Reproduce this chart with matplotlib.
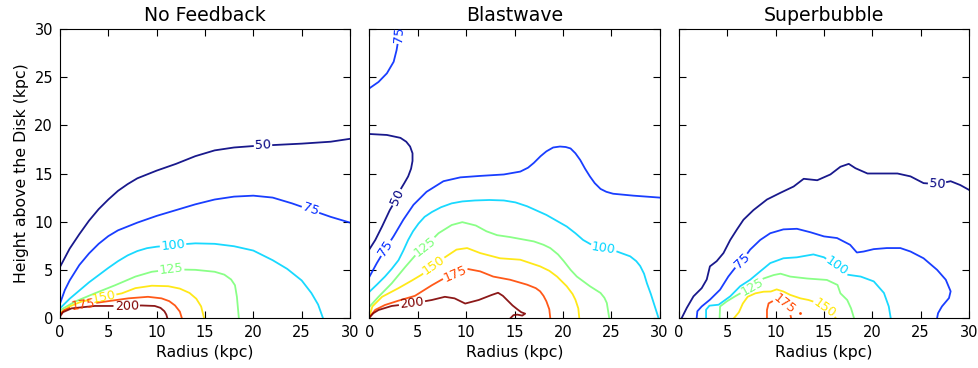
import numpy as np
import matplotlib.pyplot as plt
from matplotlib.colors import Normalize

levels = [50, 75, 100, 125, 150, 175, 200]
titles = ["No Feedback", "Blastwave", "Superbubble"]

# contour paths: (radius kpc, height kpc)
nf_50 = [(0, 5.3), (1, 7.2), (2, 8.7), (3, 10.1), (4, 11.3), (5, 12.3), (6, 13.2), (7, 13.9), (8, 14.5),
         (10, 15.3), (12, 16.0), (14, 16.8), (16, 17.4), (18, 17.7), (20, 17.85), (22, 17.95), (25, 18.1),
         (28, 18.3), (30, 18.6)]
nf_75 = [(0, 1.5), (0.5, 2.9), (1, 3.9), (2, 5.5), (3, 6.7), (4, 7.7), (5, 8.5), (6, 9.1), (8, 9.9), (10, 10.6),
         (12, 11.2), (14, 11.8), (16, 12.3), (18, 12.6), (20, 12.7), (22, 12.5), (24, 11.9), (26, 11.2),
         (28, 10.5), (30, 9.9)]
nf_100 = [(0, 1.0), (1, 2.0), (2, 2.85), (3, 3.7), (4, 4.45), (5, 5.2), (6, 5.9), (7, 6.5), (8, 6.95), (9, 7.25),
          (10, 7.4), (12, 7.6), (14, 7.75), (16, 7.7), (18, 7.45), (20, 7.0), (22, 6.0), (23.5, 5.1), (25, 3.9),
          (26, 2.6), (26.7, 1.4), (27.2, 0)]
nf_125 = [(0, 0.8), (1.55, 1.7), (3.6, 2.56), (5.7, 3.4), (7.8, 4.3), (9.5, 4.8), (11.6, 5.05), (14.0, 5.0),
          (16.0, 4.8), (17.0, 4.5), (17.7, 4.0), (18.1, 3.4), (18.3, 2.2), (18.5, 0)]
nf_150 = [(0, 0.5), (1.0, 1.2), (2.2, 1.7), (4.65, 2.2), (6.4, 2.56), (7.8, 3.1), (9.5, 3.35), (11.2, 3.3),
          (12.4, 3.05), (13.4, 2.6), (14.1, 2.0), (14.6, 1.2), (14.9, 0)]
nf_175 = [(0, 0.3), (0.4, 0.8), (1.55, 1.25), (4.65, 1.7), (7.07, 2.04), (9.1, 2.2), (10.5, 2.04),
          (11.3, 1.75), (11.9, 1.3), (12.4, 0.66), (12.6, 0)]
nf_200 = [(0, 0.15), (0.3, 0.6), (1.2, 1.0), (3.6, 1.25), (6.4, 1.25), (8.45, 1.3), (9.8, 1.25),
          (10.4, 1.05), (10.8, 0.7), (11.0, 0.35), (11.1, 0)]
nf_labels = [(50, 21.0, 17.9), (75, 25.9, 11.2), (100, 11.7, 7.5), (125, 11.5, 5.05),
             (150, 4.5, 2.1), (175, 2.4, 1.3), (200, 6.9, 1.25)]

bw_75_top = [(0, 23.85), (0.93, 24.5), (1.8, 25.4), (2.5, 26.6), (2.8, 27.8), (3.0, 29.0), (3.1, 30.5)]
bw_50 = [(0, 19.1), (1.8, 19.0), (3.2, 18.7), (3.8, 18.3), (4.2, 17.8), (4.45, 17.1), (4.45, 16.3), (4.3, 15.5),
         (4.0, 14.7), (3.6, 14.0), (3.3, 13.5), (2.8, 12.4), (2.1, 11.2), (1.3, 9.5), (0.6, 8.1), (0, 7.15)]
bw_75 = [(0, 4.3), (0.76, 5.7), (1.6, 7.1), (2.5, 8.5), (3.5, 10.2), (4.55, 11.75), (5.9, 13.1), (7.65, 14.2),
         (9.4, 14.6), (11.45, 14.75), (13.9, 14.9), (15.6, 15.2), (16.4, 15.6), (17.0, 16.1), (17.7, 16.8),
         (18.3, 17.3), (19.0, 17.7), (19.7, 17.8), (20.3, 17.75), (20.8, 17.6), (21.3, 17.1), (21.8, 16.4),
         (22.3, 15.5), (22.8, 14.7), (23.3, 14.0), (23.9, 13.4), (24.5, 13.1), (25.2, 12.9), (27.3, 12.7),
         (30, 12.5)]
bw_100 = [(0, 2.73), (0.8, 3.5), (1.6, 4.3), (2.3, 5.1), (3.0, 6.0), (3.5, 7.0), (4.0, 8.1), (4.5, 9.0),
          (5.07, 9.8), (5.7, 10.5), (6.45, 11.0), (7.4, 11.5), (8.5, 11.9), (9.6, 12.1), (10.9, 12.2), (12.4, 12.25),
          (13.9, 12.2), (15.1, 12.0), (16.3, 11.6), (18.3, 10.7), (20.4, 9.5), (21.3, 8.8), (22.1, 8.1),
          (23.5, 7.3), (24.5, 7.15), (25.6, 6.9), (26.97, 6.4), (27.6, 5.9), (28.0, 5.4), (28.4, 4.6), (28.7, 3.6),
          (29.1, 2.5), (29.4, 1.56), (29.9, 0)]
bw_125 = [(0, 1.17), (0.93, 2.2), (2.3, 3.6), (3.7, 5.3), (5.0, 6.8), (5.76, 7.4), (7.14, 8.8), (8.5, 9.65),
          (9.6, 9.95), (11.0, 9.6), (12.1, 9.0), (13.2, 8.6), (14.55, 8.4), (17.0, 7.95), (18.0, 7.6), (18.7, 7.26),
          (19.5, 6.6), (20.1, 5.9), (20.8, 5.0), (21.45, 4.3), (22.8, 3.3), (23.9, 2.6), (24.3, 2.1), (24.55, 1.56),
          (24.8, 0)]
bw_150 = [(0, 0.2), (0.3, 1.2), (1.3, 2.2), (3.0, 3.1), (4.4, 3.9), (5.4, 4.5), (6.5, 5.4), (7.65, 6.2),
          (9.0, 7.1), (10.1, 7.26), (11.45, 6.74), (13.5, 6.2), (15.6, 6.05), (17.65, 5.36), (18.6, 4.9),
          (19.4, 4.3), (20.4, 3.3), (21.0, 2.5), (21.3, 1.9), (21.6, 1.0), (21.7, 0)]
bw_175 = [(0, 0.1), (0.6, 0.85), (1.6, 1.35), (3.0, 1.8), (4.7, 2.3), (6.45, 3.4), (7.5, 4.0), (8.86, 4.6),
          (10.1, 5.1), (11.45, 4.84), (12.8, 4.3), (14.55, 3.97), (16.3, 3.46), (17.2, 3.1), (17.65, 2.77),
          (18.0, 2.3), (18.3, 1.73), (18.6, 0.9), (18.7, 0)]
bw_200 = [(0, 0.05), (0.4, 0.5), (0.93, 0.83), (2.3, 1.25), (4.4, 1.5), (6.45, 1.87), (7.8, 2.2), (8.8, 2.04),
          (9.9, 1.5), (11.3, 1.87), (12.66, 2.4), (13.3, 2.62), (13.8, 2.3), (14.2, 1.9), (14.8, 1.3), (15.3, 0.9),
          (15.7, 0.6), (16.1, 0.45), (15.8, 0.25), (15.3, 0.35), (14.9, 0.3), (14.6, 0)]
bw_labels = [(75, 3.05, 29.4), (50, 2.65, 12.6), (75, 1.86, 7.15), (100, 24.2, 7.2), (125, 5.76, 7.4),
             (150, 6.6, 5.5), (175, 8.86, 4.6), (200, 4.4, 1.5)]

sb_50 = [(0.28, 0), (0.8, 1.04), (1.5, 2.25), (2.35, 3.1), (2.87, 4.0), (3.2, 5.36), (3.9, 5.9), (4.6, 6.74),
         (5.3, 8.1), (6.0, 9.2), (6.67, 10.2), (7.7, 11.2), (9.1, 12.3), (10.5, 13.0), (11.86, 13.65),
         (12.9, 14.45), (14.3, 14.3), (15.66, 14.9), (16.7, 15.7), (17.56, 16.0), (18.25, 15.55), (19.5, 15.0),
         (20.8, 15.0), (22.6, 15.0), (23.95, 14.7), (25.3, 14.0), (26.7, 13.9), (28.1, 14.2), (29.1, 13.8), (30, 13.3)]
sb_75 = [(1.83, 0), (1.9, 0.7), (2.35, 1.2), (3.2, 1.9), (4.25, 2.94), (5.1, 4.3), (5.8, 5.2), (6.5, 5.9),
         (7.36, 7.1), (8.4, 8.1), (9.44, 8.8), (10.8, 9.2), (12.2, 9.26), (13.6, 8.9), (15.0, 8.47), (16.35, 8.3),
         (17.7, 7.6), (18.4, 6.8), (19.1, 6.9), (20.15, 7.15), (21.5, 7.26), (22.9, 7.26), (23.95, 6.9),
         (25.3, 6.2), (26.7, 5.0), (27.6, 3.97), (28.1, 2.77), (27.93, 2.07), (27.2, 1.2), (26.8, 0.5), (26.7, 0)]
sb_100 = [(2.8, 0), (2.8, 0.86), (3.15, 1.28), (4.1, 1.38), (5.3, 2.25), (6.33, 3.3), (7.36, 3.97), (8.4, 4.84),
          (9.44, 5.7), (10.8, 6.2), (12.2, 6.3), (13.9, 6.6), (15.0, 6.3), (16.35, 5.36), (17.4, 4.5),
          (18.8, 4.3), (20.15, 3.8), (21.2, 2.6), (21.7, 1.2), (21.9, 0)]
sb_125 = [(4.2, 0), (4.25, 1.2), (4.95, 1.73), (5.8, 2.25), (7.55, 3.25), (8.75, 4.1), (9.8, 4.46), (10.5, 4.6),
          (11.5, 4.3), (13.25, 4.1), (15.3, 3.95), (16.4, 3.43), (16.7, 2.56), (17.4, 1.87), (17.8, 1.0), (18.1, 0)]
sb_150 = [(5.7, 0), (6.2, 0.6), (6.6, 1.5), (7.1, 2.2), (7.9, 2.56), (8.75, 2.73), (9.5, 2.75), (10.1, 2.97),
          (10.8, 2.75), (11.5, 2.4), (12.56, 2.04), (13.4, 1.87), (13.9, 1.7), (14.5, 1.4), (15.2, 0.9),
          (15.8, 0.45), (16.2, 0)]
sb_175 = [(9.1, 0), (9.1, 0.83), (9.27, 1.52), (9.6, 1.7), (9.97, 1.95), (10.5, 1.8), (11.0, 1.4),
          (11.4, 0.8), (11.6, 0)]
sb_175_spot = (12.56, 0.55)
sb_labels = [(50, 26.7, 13.9), (75, 6.5, 5.9), (100, 16.35, 5.36), (125, 7.55, 3.25),
             (150, 15.0, 0.9), (175, 10.9, 1.5)]

panels = [
    ([(50, nf_50), (75, nf_75), (100, nf_100), (125, nf_125), (150, nf_150), (175, nf_175), (200, nf_200)],
     nf_labels, None),
    ([(75, bw_75_top), (50, bw_50), (75, bw_75), (100, bw_100), (125, bw_125), (150, bw_150),
      (175, bw_175), (200, bw_200)], bw_labels, None),
    ([(50, sb_50), (75, sb_75), (100, sb_100), (125, sb_125), (150, sb_150), (175, sb_175)],
     sb_labels, sb_175_spot),
]

cmap = plt.cm.jet
norm = Normalize(min(levels), max(levels))

fig = plt.figure(figsize=(9.79, 3.68), dpi=100)
renderer = fig.canvas.get_renderer()


def sub_path(disp, cum, s_a, s_b):
    keep = (cum > s_a) & (cum < s_b)
    xa = np.interp(s_a, cum, disp[:, 0]), np.interp(s_a, cum, disp[:, 1])
    xb = np.interp(s_b, cum, disp[:, 0]), np.interp(s_b, cum, disp[:, 1])
    return np.vstack([xa, disp[keep], xb])


for k, (lines, labels, spot) in enumerate(panels):
    ax = fig.add_axes([(60 + k * 309.5) / 979, 50 / 368, 290 / 979, 289 / 368])
    ax.set_xlim(0, 30)
    ax.set_ylim(0, 30)
    ax.set_xticks(range(0, 31, 5))
    ax.set_yticks(range(0, 31, 5))
    ax.tick_params(direction='in', top=True, right=True, length=5, labelsize=10.5, pad=5)
    if k > 0:
        ax.set_yticklabels([])
    else:
        ax.set_ylabel("Height above the Disk (kpc)", fontsize=11.3)
    ax.set_xlabel("Radius (kpc)", fontsize=11.3)
    ax.set_title(titles[k], fontsize=13.6)

    # attach each label to the nearest line of its level
    gaps = {i: [] for i in range(len(lines))}
    for lev, lx, ly in labels:
        p = ax.transData.transform((lx, ly))
        best = None
        for i, (lv, pts) in enumerate(lines):
            if lv != lev:
                continue
            d = ax.transData.transform(np.array(pts, float))
            for j in range(len(d) - 1):
                v = d[j + 1] - d[j]
                L = np.hypot(*v)
                t = np.clip(np.dot(p - d[j], v) / L ** 2, 0, 1)
                dist = np.hypot(*(d[j] + t * v - p))
                if best is None or dist < best[0]:
                    best = (dist, i, j, t)
        _, i, j, t = best
        d = ax.transData.transform(np.array(lines[i][1], float))
        v = d[j + 1] - d[j]
        seg = np.hypot(np.diff(d[:, 0]), np.diff(d[:, 1]))
        s0 = np.concatenate([[0], np.cumsum(seg)])[j] + t * seg[j]
        ang = np.degrees(np.arctan2(v[1], v[0]))
        if ang > 90:
            ang -= 180
        if ang < -90:
            ang += 180
        xy = ax.transData.inverted().transform(d[j] + t * v)
        txt = ax.text(xy[0], xy[1], str(lev), fontsize=9.2, color=cmap(norm(lev)),
                      ha='center', va='center', clip_on=True)
        w = txt.get_window_extent(renderer).width
        txt.set_rotation(ang)
        txt.set_rotation_mode('anchor')
        gaps[i].append((s0 - w / 2 - 2, s0 + w / 2 + 2))

    for i, (lev, pts) in enumerate(lines):
        d = ax.transData.transform(np.array(pts, float))
        seg = np.hypot(np.diff(d[:, 0]), np.diff(d[:, 1]))
        cum = np.concatenate([[0], np.cumsum(seg)])
        cuts = [-1.0]
        for a, b in sorted(gaps[i]):
            cuts += [a, b]
        cuts.append(cum[-1] + 1)
        for a, b in zip(cuts[::2], cuts[1::2]):
            a, b = max(a, 0), min(b, cum[-1])
            if b <= a:
                continue
            piece = ax.transData.inverted().transform(sub_path(d, cum, a, b))
            ax.plot(piece[:, 0], piece[:, 1], color=cmap(norm(lev)), lw=1.3, alpha=0.9,
                    solid_joinstyle='round')

    if spot is not None:
        ax.plot(spot[0], spot[1], 'o', ms=2, color=cmap(norm(175)), mec='none')

fig.savefig("out.png", dpi=100)
